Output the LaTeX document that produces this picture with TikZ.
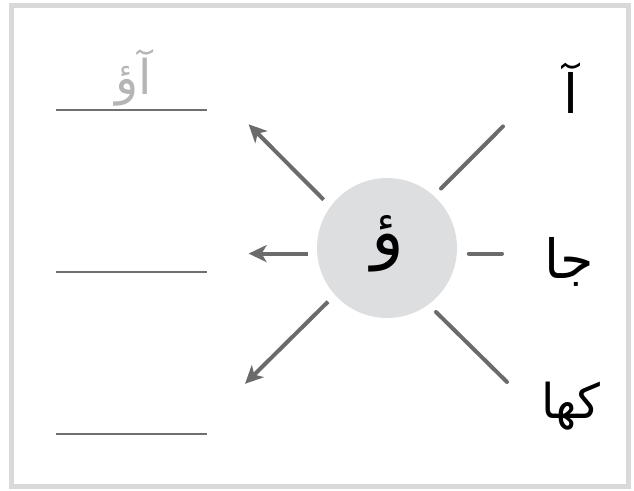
\documentclass[tikz,border=0pt]{standalone}
\usepackage{fontspec}
\usetikzlibrary{arrows.meta}
\TeXXeTstate=1
\newfontfamily\arabicfont[Script=Arabic]{DejaVu Sans}
\definecolor{framegray}{HTML}{D9D9D9}
\definecolor{arrowgray}{HTML}{6B6B6B}
\definecolor{circlegray}{HTML}{DDDEE0}
\definecolor{linegray}{HTML}{707070}
\definecolor{hintgray}{HTML}{B5B5B5}
\tikzset{
  ray/.style={draw=arrowgray, line width=4pt, line cap=round},
  rayarrow/.style={ray, line cap=butt, -{Stealth[length=18pt,width=17pt,inset=5pt]}},
  answerline/.style={draw=linegray, line width=2pt},
  urdu/.style={inner sep=0pt, font=\arabicfont\fontsize{54}{60}\selectfont},
}
\begin{document}
\begin{tikzpicture}[x=1pt,y=-1pt]
\useasboundingbox (0,0) rectangle (634,490);
\draw[framegray, line width=5pt] (11.7,5.4) rectangle (628.8,486.4);
% centre
\node[circle, fill=circlegray, minimum size=140pt, inner sep=0pt] (c) at (387,248) {};
\node[urdu, font=\arabicfont\fontsize{68}{76}\selectfont] (w) at (388,244) {\beginR ؤ\endR};
% left arrows
\coordinate (ul0) at (323.6,199.7);
\coordinate (ul1) at (248.6,124.3);
\coordinate (l0) at (307.7,253.6);
\coordinate (l1) at (248.6,253.6);
\coordinate (dl0) at (328,301.7);
\coordinate (dl1) at (245,383.8);
\draw[rayarrow] (ul0) -- (ul1);
\draw[rayarrow] (l0) -- (l1);
\draw[rayarrow] (dl0) -- (dl1);
% right rays
\coordinate (ur0) at (441,188.5);
\coordinate (ur1) at (503,126.4);
\coordinate (r0) at (468.8,253.6);
\coordinate (r1) at (502,253.6);
\coordinate (dr0) at (436,312);
\coordinate (dr1) at (507,382);
\draw[ray] (ur0) -- (ur1);
\draw[ray] (r0) -- (r1);
\draw[ray] (dr0) -- (dr1);
% answer lines
\coordinate (a0) at (56,110.3);
\coordinate (a1) at (207,110.3);
\coordinate (b0) at (56,272.3);
\coordinate (b1) at (207,272.3);
\coordinate (d0) at (56,434.3);
\coordinate (d1) at (207,434.3);
\draw[answerline] (a0) -- (a1);
\draw[answerline] (b0) -- (b1);
\draw[answerline] (d0) -- (d1);
\node[urdu, text=hintgray, font=\arabicfont\fontsize{48}{54}\selectfont] (hint) at (134,78) {\beginR آؤ\endR};
% right words
\node[urdu] (t1) at (571,88) {\beginR آ\endR};
\node[urdu] (t2) at (569,262) {\beginR جا\endR};
\node[urdu, font=\arabicfont\fontsize{48}{54}\selectfont] (t3) at (571,406) {\beginR کھا\endR};
\end{tikzpicture}
\end{document}
